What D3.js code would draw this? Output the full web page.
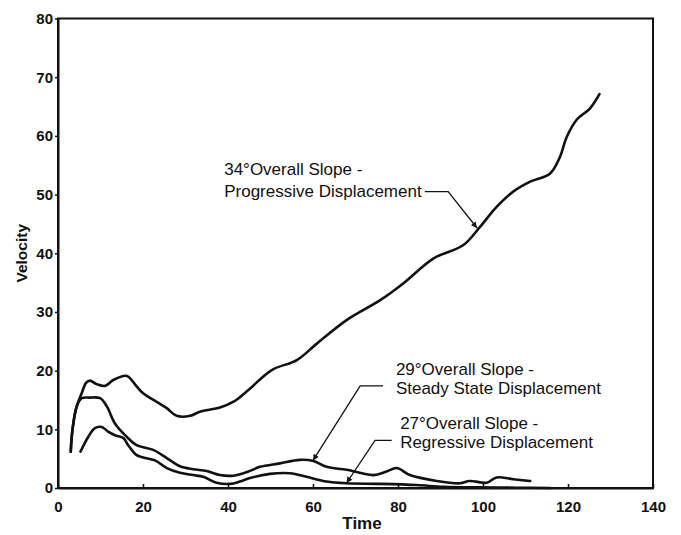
<!DOCTYPE html>
<html>
<head>
<meta charset="utf-8">
<script src="https://cdn.jsdelivr.net/npm/d3@7"></script>
<style>
  html, body { margin: 0; padding: 0; background: #fff; }
  svg { display: block; }
  text { font-family: "Liberation Sans", Arial, Helvetica, sans-serif; fill: #111; }
</style>
</head>
<body>
<svg id="chart" width="681" height="535"></svg>
<script>
// ---- data ----
const xTicks = [0, 20, 40, 60, 80, 100, 120, 140];
const yTicks = [0, 10, 20, 30, 40, 50, 60, 70, 80];

const progressiveX = [3.0, 3.4, 4.4, 5.6, 6.6, 7.5, 9.1, 11.1, 13.0, 16.2, 18.5, 20.1, 23.2, 25.6, 27.9, 31.1, 33.4, 38.1, 41.3, 44.8, 50.3, 56.2, 60.9, 67.9, 75.8, 81.3, 88.3, 95.4, 99.3, 103.2, 107.1, 111.1, 115.8, 118.1, 119.7, 122.0, 125.2, 127.4];
const progressiveY = [6.2, 9.9, 13.9, 16.2, 17.9, 18.3, 17.7, 17.4, 18.4, 19.1, 17.3, 16.1, 14.7, 13.6, 12.3, 12.3, 13.0, 13.7, 14.7, 16.7, 20.1, 21.8, 24.6, 28.6, 32.0, 34.9, 39.1, 41.4, 44.5, 47.9, 50.5, 52.2, 53.6, 56.4, 59.8, 62.7, 64.7, 67.1];

const steadyX = [3.0, 3.4, 4.4, 5.6, 7.5, 9.9, 11.5, 13.4, 16.2, 18.5, 22.4, 25.6, 28.7, 31.8, 35.0, 38.1, 41.3, 44.8, 47.5, 52.2, 56.9, 60.1, 63.2, 67.9, 74.2, 77.3, 79.7, 82.8, 89.1, 94.6, 96.9, 100.9, 103.2, 107.1, 111.1];
const steadyY = [6.2, 9.9, 13.9, 15.3, 15.4, 15.3, 13.9, 11.0, 8.7, 7.3, 6.5, 5.1, 3.7, 3.2, 2.9, 2.2, 2.1, 2.8, 3.6, 4.2, 4.8, 4.6, 3.6, 3.1, 2.2, 2.8, 3.4, 2.2, 1.2, 0.8, 1.2, 0.9, 1.8, 1.5, 1.2];

const regressiveX = [5.3, 7.1, 8.7, 10.3, 11.8, 13.4, 15.4, 16.5, 18.5, 20.1, 22.8, 25.6, 28.7, 31.8, 34.2, 37.3, 40.5, 42.8, 45.2, 49.9, 54.6, 58.5, 63.2, 67.9, 75.8, 84.4, 90.7, 98.7, 108.0, 115.8];
const regressiveY = [6.2, 8.7, 10.2, 10.4, 9.6, 9.0, 8.5, 7.3, 5.6, 5.2, 4.7, 3.4, 2.6, 2.2, 1.9, 0.9, 0.7, 1.1, 1.7, 2.4, 2.5, 1.9, 1.1, 0.8, 0.7, 0.5, 0.2, 0.1, 0.05, 0.0];

const labelLines = [
  ["34\u00B0Overall Slope -", "Progressive Displacement"],
  ["29\u00B0Overall Slope -", "Steady State Displacement"],
  ["27\u00B0Overall Slope -", "Regressive Displacement"]
];
const xLabel = "Time";
const yLabel = "Velocity";

// ---- layout ----
const W = 681, H = 535;
const margin = { left: 58, right: 28, top: 18.5, bottom: 47 };
const svg = d3.select("#chart");

const x = d3.scaleLinear().domain([0, 140]).range([margin.left, W - margin.right]);
const y = d3.scaleLinear().domain([0, 80]).range([H - margin.bottom, margin.top]);

// arrow marker
svg.append("defs").append("marker")
  .attr("id", "arrow")
  .attr("viewBox", "0 0 10 10")
  .attr("refX", 10).attr("refY", 5)
  .attr("markerWidth", 8).attr("markerHeight", 6)
  .attr("markerUnits", "userSpaceOnUse")
  .attr("orient", "auto")
  .append("path").attr("d", "M0,0 L10,5 L0,10 Z").attr("fill", "#111");

// frame
svg.append("rect")
  .attr("x", x(0)).attr("y", y(80))
  .attr("width", x(140) - x(0)).attr("height", y(0) - y(80))
  .attr("fill", "none").attr("stroke", "#111").attr("stroke-width", 2);

// axes
const xAxis = d3.axisBottom(x).tickValues(xTicks).tickSizeInner(-4).tickSizeOuter(0).tickPadding(13);
const gx = svg.append("g").attr("transform", `translate(0,${y(0)})`).call(xAxis);
gx.select(".domain").attr("stroke", "#111").attr("stroke-width", 2);
gx.selectAll(".tick line").attr("stroke", "#111").attr("stroke-width", 1.5);
gx.selectAll(".tick text").attr("font-size", 15).attr("font-weight", "bold").attr("fill", "#111");

const yAxis = d3.axisLeft(y).tickValues(yTicks).tickSizeInner(3).tickSizeOuter(0).tickPadding(2);
const gy = svg.append("g").attr("transform", `translate(${x(0)},0)`).call(yAxis);
gy.select(".domain").attr("stroke", "#111").attr("stroke-width", 2);
gy.selectAll(".tick line").attr("stroke", "#111").attr("stroke-width", 1.5);
gy.selectAll(".tick text").attr("font-size", 15).attr("font-weight", "bold").attr("fill", "#111");

// axis titles
svg.append("text").attr("x", 362).attr("y", 529)
  .attr("text-anchor", "middle").attr("font-size", 17).attr("font-weight", "bold").text(xLabel);
svg.append("text")
  .attr("transform", `translate(27,${(y(0) + y(80)) / 2}) rotate(-90)`)
  .attr("text-anchor", "middle").attr("font-size", 15.5).attr("font-weight", "bold").text(yLabel);

// curves
const line = d3.line().x(d => x(d[0])).y(d => y(d[1])).curve(d3.curveCatmullRom.alpha(0.5));
const series = [
  d3.zip(progressiveX, progressiveY),
  d3.zip(steadyX, steadyY),
  d3.zip(regressiveX, regressiveY)
];
svg.append("g").selectAll("path").data(series).join("path")
  .attr("d", line)
  .attr("fill", "none").attr("stroke", "#111")
  .attr("stroke-width", 2.6).attr("stroke-linejoin", "round").attr("stroke-linecap", "round");

// annotations (text anchor and leader lines in data coordinates)
const annotations = [
  { tx: 39.1, ty: [53.3, 49.6], leader: [[86.3, 50.5], [91.8, 50.5], [98.6, 44.3]] },
  { tx: 79.5, ty: [19.2, 16.0], leader: [[76.5, 17.4], [71.1, 17.4], [60.0, 4.7]] },
  { tx: 80.5, ty: [10.0, 6.8], leader: [[78.5, 8.1], [74.6, 8.1], [67.9, 0.85]] }
];
annotations.forEach((a, i) => {
  labelLines[i].forEach((t, j) => {
    svg.append("text").attr("x", x(a.tx)).attr("y", y(a.ty[j]))
      .attr("font-size", 17).text(t);
  });
  svg.append("path")
    .attr("d", d3.line().x(d => x(d[0])).y(d => y(d[1]))(a.leader))
    .attr("fill", "none").attr("stroke", "#111").attr("stroke-width", 1.3)
    .attr("marker-end", "url(#arrow)");
});
</script>
</body>
</html>
